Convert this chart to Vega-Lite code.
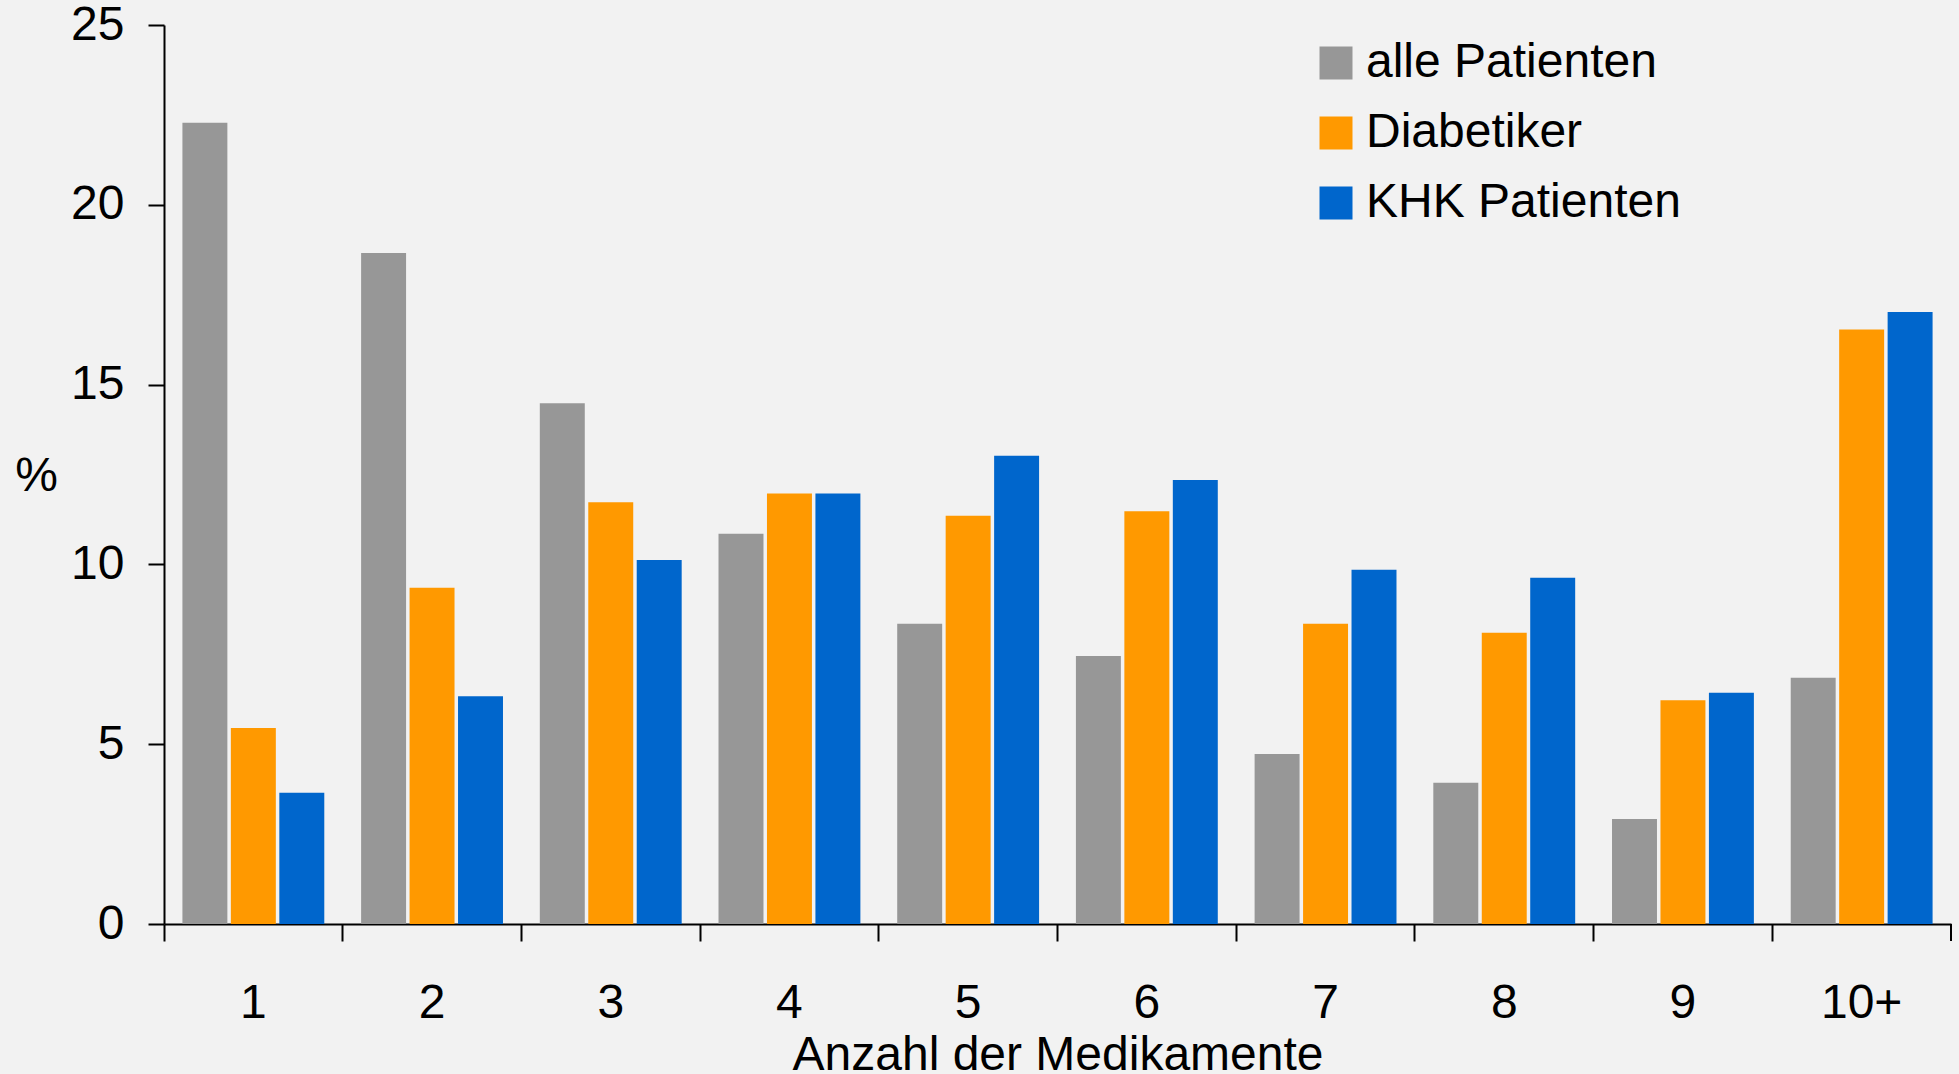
{
  "$schema": "https://vega.github.io/schema/vega-lite/v6.json",
  "autosize": {"type": "none"},
  "padding": {"left": 164, "top": 25, "right": 8, "bottom": 150},
  "width": 1787,
  "height": 899,
  "background": "#f2f2f2",
  "config": {
    "font": "Liberation Sans",
    "view": {"stroke": null},
    "axis": {"labelColor": "#000000", "titleColor": "#000000", "domainColor": "#000000", "tickColor": "#000000", "domainWidth": 2, "tickWidth": 2, "labelFont": "Liberation Sans", "titleFont": "Liberation Sans", "titleFontWeight": "normal", "labelFontSize": 48, "titleFontSize": 48, "grid": false}
  },
  "data": {
    "values": [
      {"anzahl": "1", "gruppe": "alle Patienten", "wert": 22.28},
      {"anzahl": "1", "gruppe": "Diabetiker", "wert": 5.45},
      {"anzahl": "1", "gruppe": "KHK Patienten", "wert": 3.65},
      {"anzahl": "2", "gruppe": "alle Patienten", "wert": 18.66},
      {"anzahl": "2", "gruppe": "Diabetiker", "wert": 9.35},
      {"anzahl": "2", "gruppe": "KHK Patienten", "wert": 6.33},
      {"anzahl": "3", "gruppe": "alle Patienten", "wert": 14.48},
      {"anzahl": "3", "gruppe": "Diabetiker", "wert": 11.73},
      {"anzahl": "3", "gruppe": "KHK Patienten", "wert": 10.12},
      {"anzahl": "4", "gruppe": "alle Patienten", "wert": 10.85},
      {"anzahl": "4", "gruppe": "Diabetiker", "wert": 11.97},
      {"anzahl": "4", "gruppe": "KHK Patienten", "wert": 11.97},
      {"anzahl": "5", "gruppe": "alle Patienten", "wert": 8.35},
      {"anzahl": "5", "gruppe": "Diabetiker", "wert": 11.35},
      {"anzahl": "5", "gruppe": "KHK Patienten", "wert": 13.02},
      {"anzahl": "6", "gruppe": "alle Patienten", "wert": 7.45},
      {"anzahl": "6", "gruppe": "Diabetiker", "wert": 11.48},
      {"anzahl": "6", "gruppe": "KHK Patienten", "wert": 12.35},
      {"anzahl": "7", "gruppe": "alle Patienten", "wert": 4.73},
      {"anzahl": "7", "gruppe": "Diabetiker", "wert": 8.35},
      {"anzahl": "7", "gruppe": "KHK Patienten", "wert": 9.85},
      {"anzahl": "8", "gruppe": "alle Patienten", "wert": 3.93},
      {"anzahl": "8", "gruppe": "Diabetiker", "wert": 8.1},
      {"anzahl": "8", "gruppe": "KHK Patienten", "wert": 9.63},
      {"anzahl": "9", "gruppe": "alle Patienten", "wert": 2.92},
      {"anzahl": "9", "gruppe": "Diabetiker", "wert": 6.22},
      {"anzahl": "9", "gruppe": "KHK Patienten", "wert": 6.43},
      {"anzahl": "10+", "gruppe": "alle Patienten", "wert": 6.85},
      {"anzahl": "10+", "gruppe": "Diabetiker", "wert": 16.53},
      {"anzahl": "10+", "gruppe": "KHK Patienten", "wert": 17.02}
    ]
  },
  "layer": [
    {
      "mark": {"type": "bar"},
      "encoding": {
        "x": {
          "field": "anzahl", "type": "nominal",
          "sort": ["1", "2", "3", "4", "5", "6", "7", "8", "9", "10+"],
          "scale": {"paddingInner": 0, "paddingOuter": 0},
          "axis": {"title": "Anzahl der Medikamente", "labelAngle": 0, "bandPosition": 0, "tickSize": 17, "labelBaseline": "alphabetic", "labelPadding": 76, "labelOffset": 0, "titleBaseline": "alphabetic", "titleY": 145, "titleX": 893.5, "titleAlign": "center", "labelFlush": false}
        },
        "xOffset": {
          "field": "gruppe", "type": "nominal",
          "sort": ["alle Patienten", "Diabetiker", "KHK Patienten"],
          "scale": {"paddingInner": 0.072, "paddingOuter": 0.38}
        },
        "y": {
          "field": "wert", "type": "quantitative",
          "scale": {"domain": [0, 25], "nice": false},
          "axis": {"title": "%", "values": [0, 5, 10, 15, 20, 25], "tickSize": 16, "labelPadding": 24, "titleAngle": 0, "titleX": -128, "titleY": 451, "titleAlign": "center", "titleBaseline": "middle"}
        },
        "color": {
          "field": "gruppe", "type": "nominal",
          "scale": {"domain": ["alle Patienten", "Diabetiker", "KHK Patienten"], "range": ["#979797", "#ff9900", "#0066cc"]},
          "legend": {"title": null, "orient": "none", "legendX": 1148, "legendY": 14, "symbolType": "square", "symbolSize": 1089, "symbolStrokeWidth": 0, "labelFontSize": 48, "labelFont": "Liberation Sans", "labelColor": "#000000", "labelOffset": 6, "rowPadding": 22, "labelLimit": 500}
        }
      }
    },
    {
      "mark": {"type": "rule", "color": "#000000", "strokeWidth": 2},
      "encoding": {
        "x": {"datum": "10+", "bandPosition": 1, "type": "nominal"},
        "y": {"datum": 0, "type": "quantitative"},
        "y2": {"datum": -0.47}
      }
    }
  ]
}
